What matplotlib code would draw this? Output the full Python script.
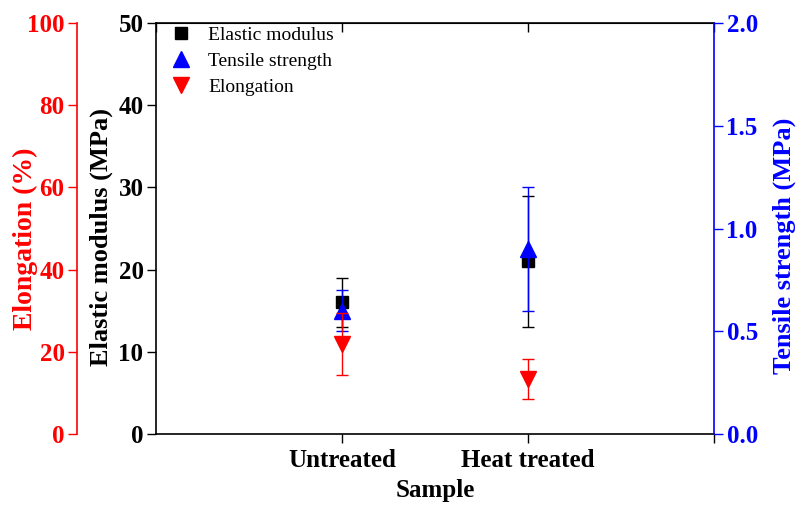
import matplotlib
matplotlib.use("Agg")
import matplotlib.pyplot as plt
from matplotlib.lines import Line2D

categories = ["Untreated", "Heat treated"]
modulus = [16.0, 21.0]
modulus_err = [3.0, 8.0]
tensile = [0.60, 0.90]
tensile_err = [0.10, 0.30]
elongation = [21.9, 13.3]
elongation_err = [7.5, 4.9]

plt.rcParams['font.family'] = ['Liberation Serif', 'DejaVu Serif']
plt.rcParams['font.weight'] = 'bold'

W, H = 811, 508
fig = plt.figure(figsize=(W/100, H/100), dpi=100)
l, r, b, t = 156, 714, 434, 23
ax = fig.add_axes([l/W, 1-b/H, (r-l)/W, (b-t)/H])
ax_t = ax.twinx()
ax_e = ax.twinx()

x = [1, 2]
fs = 18
tl = 6.5
tp = 2.5

# Main axis: elastic modulus
ax.errorbar(x, modulus, yerr=modulus_err, fmt='s', color='black', ms=8.5,
            elinewidth=1, capsize=4, capthick=1, zorder=3)
ax.set_xlim(0, 3)
ax.set_ylim(0, 50)
ax.set_yticks([0, 10, 20, 30, 40, 50])
ax.set_xticks([1, 2, 3])
ax.set_xticklabels(categories + [""])
ax.tick_params(axis='y', direction='out', length=tl, width=1, labelsize=fs, pad=tp)
ax.tick_params(axis='x', direction='out', length=tl, width=1, labelsize=fs, pad=4)
ax.set_ylabel("Elastic modulus (MPa)", fontsize=19, fontweight='bold', labelpad=4, y=0.479)
ax.set_xlabel("Sample", fontsize=fs, fontweight='bold', labelpad=5)
for s in ax.spines.values():
    s.set_linewidth(1.2)
ax.spines['right'].set_visible(False)
ax_top = ax.secondary_xaxis('top')
ax_top.set_xticks([0, 1, 2, 3])
ax_top.set_xticklabels([])
ax_top.tick_params(direction='in', length=tl, width=1)

# Tensile strength (right, blue)
ax_t.errorbar(x, tensile, yerr=tensile_err, fmt='^', color='blue', ms=11,
              elinewidth=1, capsize=4, capthick=1, zorder=3)
ax_t.set_ylim(0, 2.0)
ax_t.set_yticks([0.0, 0.5, 1.0, 1.5, 2.0])
ax_t.set_yticklabels(["0.0", "0.5", "1.0", "1.5", "2.0"])
ax_t.tick_params(axis='y', colors='blue', direction='out', length=tl, width=1, labelsize=fs, pad=tp)
ax_t.spines['right'].set_color('blue')
ax_t.spines['right'].set_linewidth(1.2)
for k in ['left', 'top', 'bottom']:
    ax_t.spines[k].set_visible(False)
ax_t.set_ylabel("Tensile strength (MPa)", color='blue', fontsize=19, fontweight='bold',
                labelpad=11, y=0.457)

# Elongation (left offset, red)
ax_e.errorbar(x, elongation, yerr=elongation_err, fmt='v', color='red', ms=11,
              elinewidth=1, capsize=4, capthick=1, zorder=3)
ax_e.set_ylim(0, 100)
ax_e.set_yticks([0, 20, 40, 60, 80, 100])
ax_e.yaxis.set_ticks_position('left')
ax_e.yaxis.set_label_position('left')
ax_e.spines['left'].set_position(('outward', (l-77)*0.72))
ax_e.spines['left'].set_visible(True)
ax_e.spines['left'].set_color('red')
ax_e.spines['left'].set_linewidth(1.2)
for k in ['right', 'top', 'bottom']:
    ax_e.spines[k].set_visible(False)
ax_e.tick_params(axis='y', colors='red', direction='out', length=tl, width=1, labelsize=fs, pad=tp)
ax_e.set_ylabel("Elongation (%)", color='red', fontsize=20, fontweight='bold',
                labelpad=-8, y=0.474)

handles = [
    Line2D([], [], ls='none', marker='s', color='black', ms=8),
    Line2D([], [], ls='none', marker='^', color='blue', ms=11),
    Line2D([], [], ls='none', marker='v', color='red', ms=11),
]
leg = ax.legend(handles, ['Elastic modulus', 'Tensile strength', 'Elongation'],
                loc='upper left', bbox_to_anchor=(-0.008, 1.025), frameon=False,
                prop={'family': 'Liberation Serif', 'weight': 'normal', 'size': 14},
                handletextpad=0.6, labelspacing=0.42, borderaxespad=0.3,
                handlelength=1.6)
leg.set_zorder(10)

fig.savefig("out.png", dpi=100)
